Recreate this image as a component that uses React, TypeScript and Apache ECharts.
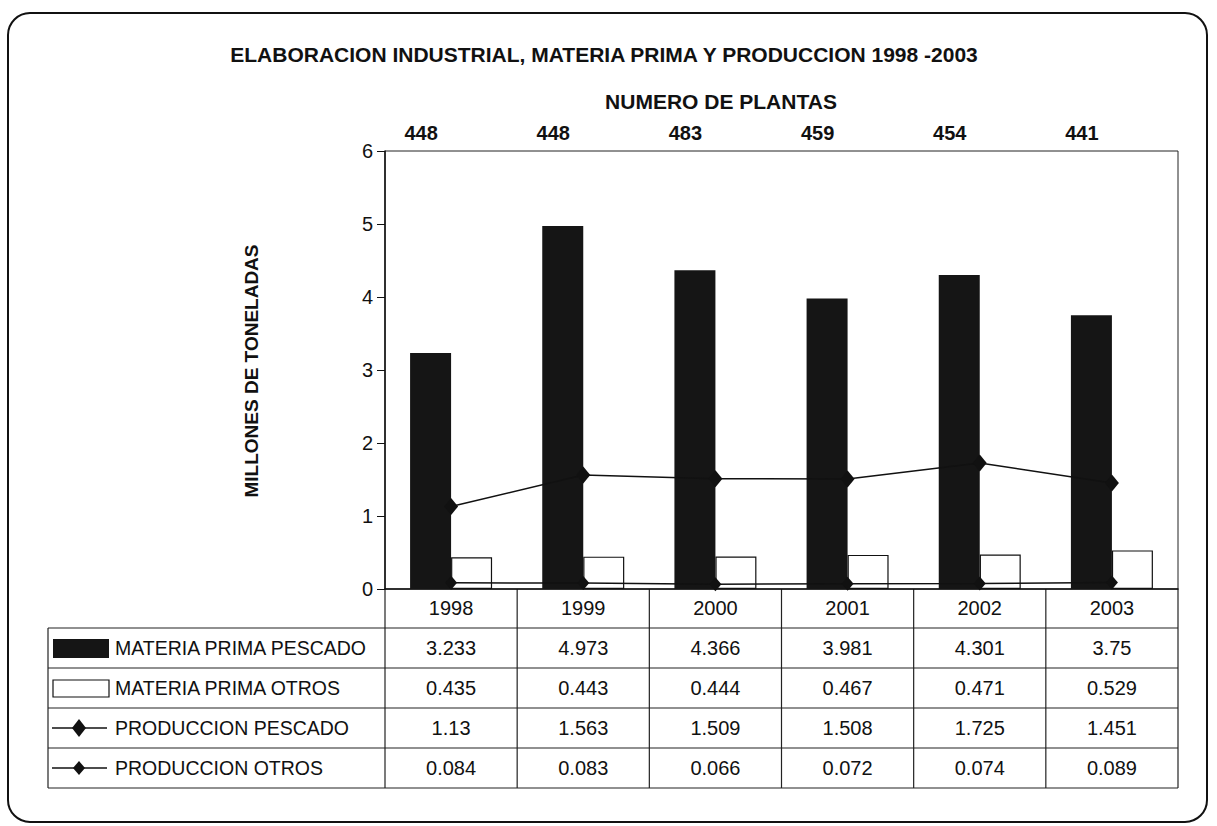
import React, { useEffect, useRef } from "react";
import * as echarts from "echarts";

const years = ["1998", "1999", "2000", "2001", "2002", "2003"];
const plantas = ["448", "448", "483", "459", "454", "441"];
const mpPescado = [3.233, 4.973, 4.366, 3.981, 4.301, 3.75];
const mpOtros = [0.435, 0.443, 0.444, 0.467, 0.471, 0.529];
const prodPescado = [1.13, 1.563, 1.509, 1.508, 1.725, 1.451];
const prodOtros = [0.084, 0.083, 0.066, 0.072, 0.074, 0.089];
const seriesNames = [
  "MATERIA PRIMA PESCADO",
  "MATERIA PRIMA OTROS",
  "PRODUCCION PESCADO",
  "PRODUCCION OTROS",
];
const tableRows = [mpPescado, mpOtros, prodPescado, prodOtros];

const W = 1217;
const H = 826;
const FONT = "'Liberation Sans', Arial, sans-serif";
const GRID_LEFT = 385;
const GRID_RIGHT_X = 1178;
const GRID_TOP = 151;
const GRID_BOTTOM_Y = 589;
const TABLE_LEFT = 48;
const ROW_TOP = 628;
const ROW_H = 40;

export default function App() {
  const ref = useRef<HTMLDivElement>(null);

  useEffect(() => {
    if (!ref.current) return;
    const chart = echarts.init(ref.current, undefined, { renderer: "svg" });
    const band = (GRID_RIGHT_X - GRID_LEFT) / years.length;
    const graphics: any[] = [];

    // outer rounded frame
    graphics.push({
      type: "rect",
      shape: { x: 8, y: 13, width: 1199, height: 809, r: 22 },
      style: { fill: "none", stroke: "#111", lineWidth: 2 },
      silent: true,
    });

    // y axis title
    graphics.push({
      type: "text",
      x: 251,
      y: 371,
      rotation: Math.PI / 2,
      style: {
        text: "MILLONES DE TONELADAS",
        font: `bold 19px ${FONT}`,
        fill: "#111",
        align: "center",
        verticalAlign: "middle",
      },
    });

    // table lines
    const lineStyle = { stroke: "#222", lineWidth: 1.2 };
    for (let r = 0; r <= tableRows.length; r++) {
      const y = ROW_TOP + r * ROW_H;
      graphics.push({
        type: "line",
        shape: { x1: TABLE_LEFT, y1: y, x2: GRID_RIGHT_X, y2: y },
        style: lineStyle,
        silent: true,
      });
    }
    graphics.push({
      type: "line",
      shape: { x1: TABLE_LEFT, y1: ROW_TOP, x2: TABLE_LEFT, y2: ROW_TOP + tableRows.length * ROW_H },
      style: lineStyle,
      silent: true,
    });
    for (let c = 0; c <= years.length; c++) {
      const x = GRID_LEFT + c * band;
      graphics.push({
        type: "line",
        shape: { x1: x, y1: GRID_BOTTOM_Y, x2: x, y2: ROW_TOP + tableRows.length * ROW_H },
        style: lineStyle,
        silent: true,
      });
    }

    // legend cells + values
    tableRows.forEach((row, r) => {
      const cy = ROW_TOP + r * ROW_H + ROW_H / 2;
      if (r === 0) {
        graphics.push({
          type: "rect",
          shape: { x: 53, y: cy - 9, width: 56, height: 19 },
          style: { fill: "#151515" },
        });
      } else if (r === 1) {
        graphics.push({
          type: "rect",
          shape: { x: 53, y: cy - 8, width: 56, height: 17 },
          style: { fill: "#fff", stroke: "#111", lineWidth: 1.2 },
        });
      } else {
        graphics.push({
          type: "line",
          shape: { x1: 52, y1: cy, x2: 107, y2: cy },
          style: { stroke: "#111", lineWidth: 1.5 },
        });
        const hw = r === 2 ? 7 : 6;
        const hh = r === 2 ? 9 : 7;
        graphics.push({
          type: "polygon",
          shape: { points: [[79, cy - hh], [79 + hw, cy], [79, cy + hh], [79 - hw, cy]] },
          style: { fill: "#111" },
        });
      }
      graphics.push({
        type: "text",
        x: 115,
        y: cy,
        style: {
          text: seriesNames[r],
          font: `19.5px ${FONT}`,
          fill: "#111",
          align: "left",
          verticalAlign: "middle",
        },
      });
      row.forEach((v, c) => {
        graphics.push({
          type: "text",
          x: GRID_LEFT + (c + 0.5) * band,
          y: cy,
          style: {
            text: String(v),
            font: `20px ${FONT}`,
            fill: "#111",
            align: "center",
            verticalAlign: "middle",
          },
        });
      });
    });

    chart.setOption({
      animation: false,
      backgroundColor: "#fff",
      title: [
        {
          text: "ELABORACION INDUSTRIAL, MATERIA PRIMA Y PRODUCCION 1998 -2003",
          left: 599,
          top: 39,
          textAlign: "center",
          textStyle: { fontFamily: FONT, fontWeight: "bold", fontSize: 21, color: "#111" },
        },
        {
          text: "NUMERO DE PLANTAS",
          left: 716,
          top: 86,
          textAlign: "center",
          textStyle: { fontFamily: FONT, fontWeight: "bold", fontSize: 21, color: "#111" },
        },
      ],
      grid: {
        left: GRID_LEFT,
        top: GRID_TOP,
        width: GRID_RIGHT_X - GRID_LEFT,
        height: GRID_BOTTOM_Y - GRID_TOP,
        show: true,
        borderColor: "#222",
        borderWidth: 1,
        backgroundColor: "transparent",
      },
      xAxis: [
        {
          type: "category",
          data: years,
          position: "bottom",
          axisLine: { show: true, lineStyle: { color: "#111", width: 1.5 } },
          axisTick: { show: false },
          axisLabel: {
            fontFamily: FONT,
            fontSize: 20,
            color: "#111",
            margin: 9,
          },
        },
        {
          type: "category",
          data: plantas,
          position: "top",
          axisLine: { show: false },
          axisTick: { show: false },
          axisLabel: {
            fontFamily: FONT,
            fontSize: 20,
            fontWeight: "bold",
            color: "#111",
            margin: 8,
            padding: [0, 60, 0, 0],
          },
        },
      ],
      yAxis: {
        type: "value",
        min: 0,
        max: 6,
        interval: 1,
        axisLine: { show: true, lineStyle: { color: "#111", width: 1.5 } },
        axisTick: { show: true, length: 8, lineStyle: { color: "#111" } },
        splitLine: { show: false },
        axisLabel: { fontFamily: FONT, fontSize: 20, color: "#111", margin: 12 },
      },
      series: [
        {
          name: seriesNames[0],
          type: "bar",
          data: mpPescado,
          barWidth: 41,
          barGap: "0%",
          itemStyle: { color: "#151515" },
        },
        {
          name: seriesNames[1],
          type: "bar",
          data: mpOtros,
          barWidth: 41,
          barGap: "0%",
          itemStyle: { color: "#fff", borderColor: "#111", borderWidth: 1.2 },
        },
        {
          name: seriesNames[2],
          type: "line",
          data: prodPescado,
          symbol: "diamond",
          symbolSize: [14, 17],
          lineStyle: { color: "#111", width: 1.5 },
          itemStyle: { color: "#111" },
          z: 5,
        },
        {
          name: seriesNames[3],
          type: "line",
          data: prodOtros,
          symbol: "diamond",
          symbolSize: [12, 14],
          lineStyle: { color: "#111", width: 1.5 },
          itemStyle: { color: "#111" },
          z: 5,
        },
      ],
      graphic: graphics,
    });

    return () => chart.dispose();
  }, []);

  return (
    <div
      ref={ref}
      style={{ position: "fixed", left: 0, top: 0, width: W, height: H, background: "#fff" }}
    />
  );
}
